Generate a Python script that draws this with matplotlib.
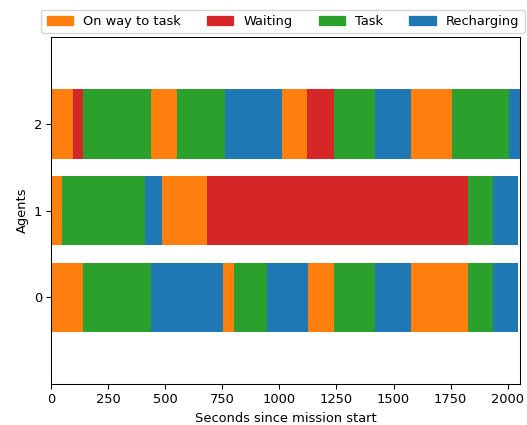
import numpy as np
import matplotlib.pyplot as plt
from matplotlib.patches import Patch

# Colour for each agent state
STATES = ['On way to task', 'Waiting', 'Task', 'Recharging']
COLORS = {'On way to task': 'tab:orange', 'Waiting': 'tab:red',
          'Task': 'tab:green', 'Recharging': 'tab:blue'}

O, W, T, R = STATES

# Sequence of states per agent and how long each one lasted (seconds)
agent0_states = [O, T, R, O, T, R, O, T, R, O, T, R]
agent0_durations = [139, 298, 315, 50, 145, 179, 113, 178, 158, 251, 110, 110]

agent1_states = [O, T, R, O, W, T, R]
agent1_durations = [47, 365, 72, 198, 1144, 110, 110]

agent2_states = [O, W, T, O, T, R, O, W, T, R, O, T, R]
agent2_durations = [96, 43, 298, 113, 211, 250, 111, 115, 180, 158, 181, 250, 49]

agents = [0, 1, 2]
timelines = [(agent0_states, agent0_durations),
             (agent1_states, agent1_durations),
             (agent2_states, agent2_durations)]

DPI = 94
fig = plt.figure(figsize=(527 / DPI, 425 / DPI), dpi=DPI)
ax = fig.add_axes([0.0973, 0.0958, 0.8897, 0.8172])

end_time = 0
for agent, (states, durations) in zip(agents, timelines):
    durations = np.array(durations)
    lefts = np.concatenate([[0], np.cumsum(durations)[:-1]])
    colors = [COLORS[s] for s in states]
    ax.barh(agent, durations, left=lefts, height=0.8, color=colors)
    end_time = max(end_time, durations.sum())

ax.set_xlim(0, end_time)
ax.set_ylim(-1, 3)
ax.set_yticks(agents)
ax.set_xlabel('Seconds since mission start')
ax.set_ylabel('Agents')

handles = [Patch(color=COLORS[s], label=s) for s in STATES]
fig.legend(handles=handles, ncol=4, loc='lower left', borderaxespad=0,
           bbox_to_anchor=(0.0784, 0.9216), frameon=True)

fig.savefig('out.png', dpi=DPI)
